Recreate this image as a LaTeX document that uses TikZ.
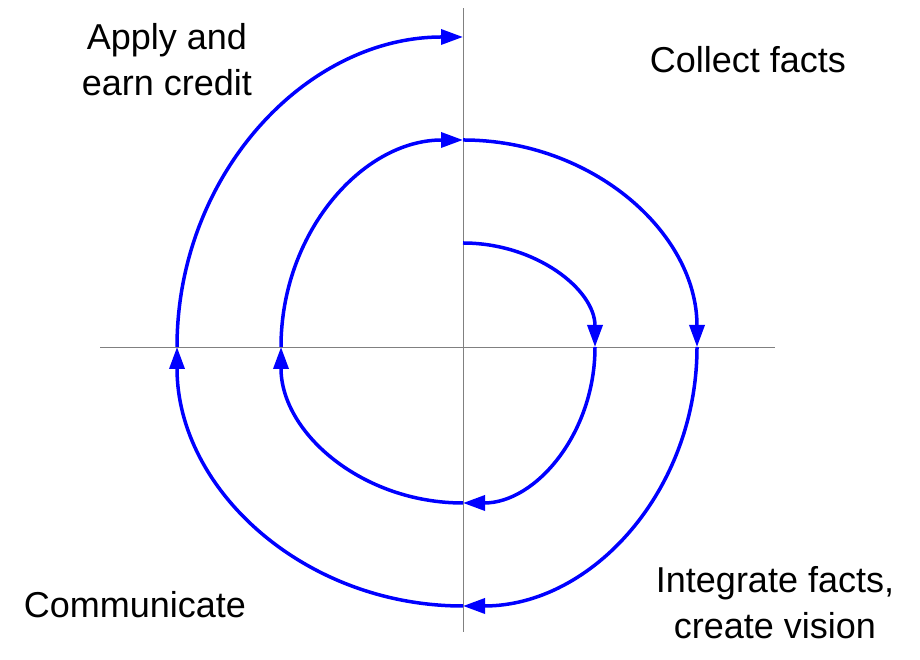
\documentclass[tikz,border=0pt]{standalone}
\usepackage{fontspec}
\setmainfont{Liberation Sans}
\usetikzlibrary{arrows.meta}
\begin{document}
\begin{tikzpicture}[x=1pt,y=1pt,
  axis/.style={gray,line width=0.8pt},
  spiral/.style={blue,line width=3.5pt,-{Triangle[length=22pt,width=15pt]}},
  lbl/.style={font=\fontsize{36}{46}\selectfont,align=center}]
\useasboundingbox (0,0) rectangle (920,660);
\coordinate (c) at (463,313);
\coordinate (xl) at (100,313); \coordinate (xr) at (775,313);
\coordinate (yb) at (463,28); \coordinate (yt) at (463,652);
\draw[axis] (xl) -- (xr);
\draw[axis] (yb) -- (yt);
\coordinate (s0) at (463,417);
\draw[spiral] (s0) arc[start angle=90,end angle=0,x radius=132,y radius=104] coordinate (s1);
\draw[spiral] (s1) arc[start angle=0,end angle=-90,x radius=132,y radius=156] coordinate (s2);
\draw[spiral] (s2) arc[start angle=-90,end angle=-180,x radius=182,y radius=156] coordinate (s3);
\draw[spiral] (s3) arc[start angle=180,end angle=90,x radius=182,y radius=207] coordinate (s4);
\draw[spiral] (s4) arc[start angle=90,end angle=0,x radius=234,y radius=207] coordinate (s5);
\draw[spiral] (s5) arc[start angle=0,end angle=-90,x radius=234,y radius=259] coordinate (s6);
\draw[spiral] (s6) arc[start angle=-90,end angle=-180,x radius=286,y radius=259] coordinate (s7);
\draw[spiral] (s7) arc[start angle=180,end angle=90,x radius=286,y radius=310] coordinate (s8);
\node[lbl] (apply) at (167,600) {Apply and\\earn credit};
\node[lbl] (collect) at (748,600) {Collect facts};
\node[lbl] (integ) at (775,57) {Integrate facts,\\create vision};
\node[lbl] (comm) at (135,55) {Communicate};
\end{tikzpicture}
\end{document}
